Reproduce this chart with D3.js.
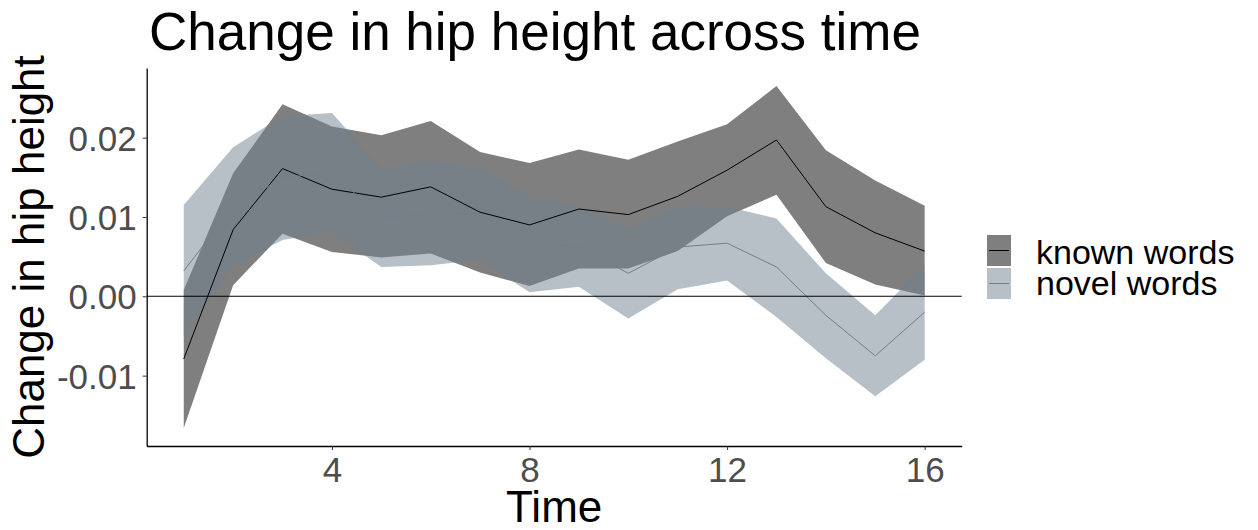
<!DOCTYPE html>
<html>
<head>
<meta charset="utf-8">
<script src="https://cdn.jsdelivr.net/npm/d3@7"></script>
<style>
  body { margin: 0; background: #fff; }
  text { font-family: "Liberation Sans", Arial, sans-serif; }
</style>
</head>
<body>
<div id="chart"></div>
<script>
const time = [1, 2, 3, 4, 5, 6, 7, 8, 9, 10, 11, 12, 13, 14, 15, 16];

const knownMean  = [-0.0079, 0.0084, 0.0161, 0.0135, 0.0125, 0.0138, 0.0106, 0.0090, 0.0110, 0.0103, 0.0126, 0.0159, 0.0197, 0.0113, 0.0080, 0.0057];
const knownLower = [-0.0166, 0.0014, 0.0079, 0.0056, 0.0049, 0.0054, 0.0030, 0.0013, 0.0035, 0.0035, 0.0057, 0.0101, 0.0128, 0.0042, 0.0015, 0.0001];
const knownUpper = [0.0008, 0.0155, 0.0242, 0.0214, 0.0203, 0.0221, 0.0182, 0.0168, 0.0185, 0.0172, 0.0195, 0.0217, 0.0265, 0.0184, 0.0146, 0.0114];

const novelMean  = [0.0032, 0.0113, 0.0149, 0.0157, 0.0098, 0.0105, 0.0104, 0.0066, 0.0063, 0.0029, 0.0062, 0.0067, 0.0037, -0.0024, -0.0075, -0.0020];
const novelLower = [-0.0051, 0.0039, 0.0071, 0.0081, 0.0037, 0.0039, 0.0046, 0.0005, 0.0012, -0.0028, 0.0009, 0.0020, -0.0026, -0.0078, -0.0126, -0.0080];
const novelUpper = [0.0115, 0.0188, 0.0227, 0.0231, 0.0161, 0.0171, 0.0163, 0.0126, 0.0114, 0.0086, 0.0114, 0.0113, 0.0098, 0.0029, -0.0024, 0.0039];

const xTicks = [4, 8, 12, 16];
const yTicks = [-0.01, 0, 0.01, 0.02];

const groups = [
  { name: "known words", mean: knownMean, lower: knownLower, upper: knownUpper,
    fill: "#7f7f7f", fillOpacity: 1, line: "#000000" },
  { name: "novel words", mean: novelMean, lower: novelLower, upper: novelUpper,
    fill: "#708090", fillOpacity: 0.5, line: "#708090" }
];

const width = 1258, height = 530;
const margin = { top: 68, right: 296.3, bottom: 84, left: 146.7 };

const svg = d3.select("#chart").append("svg")
  .attr("width", width).attr("height", height);

const x = d3.scaleLinear().domain([0.25, 16.75]).range([margin.left, width - margin.right]);
const y = d3.scaleLinear().domain([-0.01887, 0.02878]).range([height - margin.bottom, margin.top]);

// ribbons
groups.forEach(g => {
  const rows = time.map((t, i) => ({ t, lo: g.lower[i], hi: g.upper[i] }));
  svg.append("path")
    .attr("d", d3.area().x(d => x(d.t)).y0(d => y(d.lo)).y1(d => y(d.hi))(rows))
    .attr("fill", g.fill)
    .attr("fill-opacity", g.fillOpacity);
});

// mean lines
groups.forEach(g => {
  const rows = time.map((t, i) => ({ t, v: g.mean[i] }));
  svg.append("path")
    .attr("d", d3.line().x(d => x(d.t)).y(d => y(d.v))(rows))
    .attr("fill", "none")
    .attr("stroke", g.line)
    .attr("stroke-width", 1);
});

// zero line
svg.append("line")
  .attr("x1", x.range()[0]).attr("x2", x.range()[1])
  .attr("y1", y(0)).attr("y2", y(0))
  .attr("stroke", "#000").attr("stroke-width", 1.1);

// axes
const fmt = d => d3.format(".2f")(d).replace("\u2212", "-");
const xAxis = svg.append("g")
  .attr("transform", `translate(0,${height - margin.bottom})`)
  .call(d3.axisBottom(x).tickValues(xTicks).tickSize(4).tickPadding(7).tickSizeOuter(0));
const yAxis = svg.append("g")
  .attr("transform", `translate(${margin.left},0)`)
  .call(d3.axisLeft(y).tickValues(yTicks).tickSize(4).tickPadding(6).tickSizeOuter(0)
    .tickFormat(fmt));

[xAxis, yAxis].forEach(a => {
  a.select(".domain").attr("stroke", "#000").attr("stroke-width", 1.3);
  a.selectAll(".tick line").attr("stroke", "#333");
  a.selectAll(".tick text")
    .attr("fill", "#4d4d4d")
    .style("font-size", "35px")
    .style("font-family", "'Liberation Sans', Arial, sans-serif");
});
xAxis.selectAll(".tick text").attr("dy", null).attr("y", 36);
yAxis.selectAll(".tick text").attr("dy", "0.36em");

// titles
svg.append("text")
  .attr("x", 149).attr("y", 50)
  .style("font-size", "53px")
  .attr("fill", "#000")
  .text("Change in hip height across time");

svg.append("text")
  .attr("x", (x.range()[0] + x.range()[1]) / 2).attr("y", 522)
  .attr("text-anchor", "middle")
  .style("font-size", "44px")
  .text("Time");

svg.append("text")
  .attr("transform", `translate(44,${(y.range()[0] + y.range()[1]) / 2}) rotate(-90)`)
  .attr("text-anchor", "middle")
  .style("font-size", "44px")
  .text("Change in hip height");

// legend
const legend = svg.append("g").attr("transform", "translate(987,235)");
groups.forEach((g, i) => {
  const row = legend.append("g").attr("transform", `translate(0,${i * 33})`);
  row.append("rect")
    .attr("width", 24).attr("height", 31)
    .attr("fill", "#fff");
  row.append("rect")
    .attr("width", 24).attr("height", 31)
    .attr("fill", g.fill).attr("fill-opacity", g.fillOpacity);
  row.append("line")
    .attr("x1", 2).attr("x2", 22).attr("y1", 15.5).attr("y2", 15.5)
    .attr("stroke", g.line).attr("stroke-width", 1);
  row.append("text")
    .attr("x", 49).attr("y", 29 - i * 2)
    .style("font-size", "34px")
    .text(g.name);
});
</script>
</body>
</html>
